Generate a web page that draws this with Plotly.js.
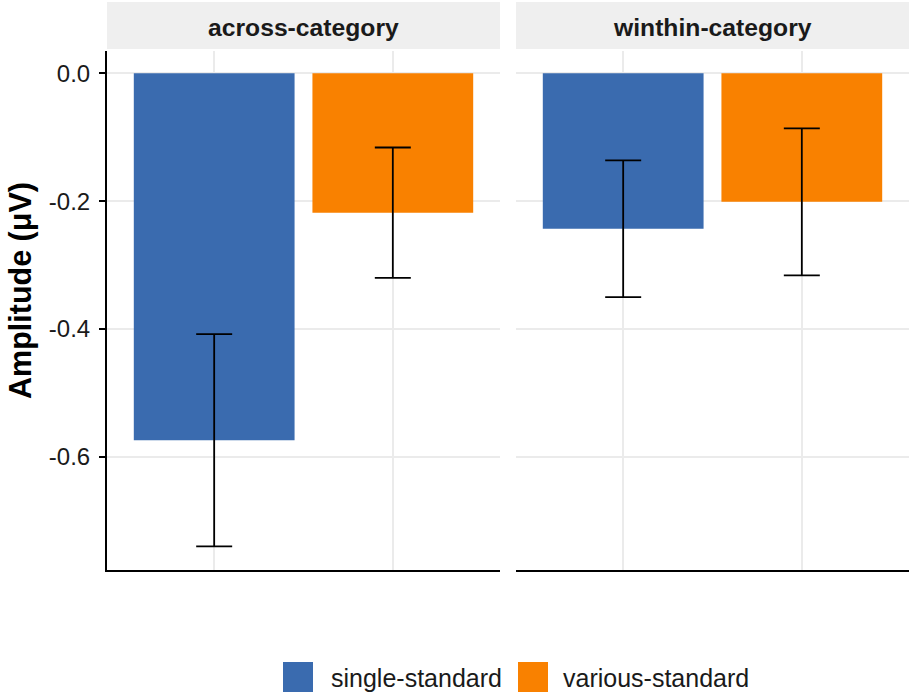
<!DOCTYPE html>
<html>
<head>
<meta charset="utf-8">
<script src="https://cdn.plot.ly/plotly-3.0.1.min.js"></script>
<style>html,body{margin:0;padding:0;background:#fff;}#chart{width:911px;height:692px;}</style>
</head>
<body>
<div id="chart"></div>
<script>
// ---- data ----
const panels = ['across-category', 'winthin-category'];
const conditions = ['single-standard', 'various-standard'];
const singleMean = [-0.574, -0.243];
const singleErr = [0.166, 0.107];
const variousMean = [-0.218, -0.201];
const variousErr = [0.102, 0.115];
const yTicks = [0.0, -0.2, -0.4, -0.6];
const yTickText = ['0.0', '-0.2', '-0.4', '-0.6'];
const yTitle = 'Amplitude (μV)';
const colors = ['#3A6BAF', '#F98100'];

const W = 911, H = 692, ML = 107, MR = 2, MT = 51, MB = 122;
const PW = W - ML - MR, PH = H - MT - MB;
const px = v => (v - ML) / PW;
const py = v => (H - MB - v) / PH;

const FONT = 'Liberation Sans, Arial, Helvetica, sans-serif';
const means = [singleMean, variousMean];
const errs = [singleErr, variousErr];

const traces = [];
conditions.forEach((c, ci) => {
  panels.forEach((p, pi) => {
    traces.push({
      type: 'bar',
      name: c,
      x: [c],
      y: [means[ci][pi]],
      xaxis: pi === 0 ? 'x' : 'x2',
      yaxis: pi === 0 ? 'y' : 'y2',
      width: 0.9,
      marker: {color: colors[ci], line: {width: 0}},
      error_y: {type: 'data', array: [errs[ci][pi]], visible: true, color: '#000000', thickness: 1.8, width: 18},
      showlegend: false,
      hoverinfo: 'skip'
    });
  });
});

const dom1 = [0, px(500)], dom2 = [px(516), 1];
const xcommon = {
  type: 'category', categoryorder: 'array', categoryarray: conditions,
  range: [-0.6, 1.6], showticklabels: false, ticks: '',
  showgrid: true, gridcolor: '#EBEBEB', gridwidth: 2,
  showline: true, linecolor: '#000000', linewidth: 2, zeroline: false, fixedrange: true
};
const ycommon = {
  range: [-0.777, 0.035], tickvals: yTicks, ticktext: yTickText,
  showgrid: true, gridcolor: '#EBEBEB', gridwidth: 2, zeroline: false, fixedrange: true
};

const shapes = [];
const annotations = [];
[dom1, dom2].forEach((d, i) => {
  shapes.push({type: 'rect', xref: 'paper', yref: 'paper', x0: d[0], x1: d[1], y0: py(49), y1: py(2),
    fillcolor: '#EFEFEF', line: {width: 0}, layer: 'below'});
  annotations.push({xref: 'paper', yref: 'paper', x: (d[0] + d[1]) / 2, y: py(27), text: '<b>' + panels[i] + '</b>',
    showarrow: false, xanchor: 'center', yanchor: 'middle', font: {family: FONT, size: 24.7, color: '#1a1a1a'}});
});
// legend
const legX = [283, 518], legTextX = [329, 561];
conditions.forEach((c, ci) => {
  shapes.push({type: 'rect', xref: 'paper', yref: 'paper', x0: px(legX[ci]), x1: px(legX[ci] + 30), y0: py(692), y1: py(662),
    fillcolor: colors[ci], line: {width: 0}});
  annotations.push({xref: 'paper', yref: 'paper', x: px(legTextX[ci]), y: py(678), text: c, showarrow: false,
    xanchor: 'left', yanchor: 'middle', font: {family: FONT, size: 25, color: '#1a1a1a'}});
});
// y-axis title (centred on panel + strip, as in the reference)
annotations.push({xref: 'paper', yref: 'paper', x: px(20), y: py(291), text: '<b>' + yTitle + '</b>', textangle: -90,
  showarrow: false, xanchor: 'center', yanchor: 'middle', font: {family: FONT, size: 30.5, color: '#000000'}});

const layout = {
  width: W, height: H,
  margin: {l: ML, r: MR, t: MT, b: MB, pad: 0},
  paper_bgcolor: '#ffffff', plot_bgcolor: '#ffffff',
  font: {family: FONT, size: 24, color: '#1a1a1a'},
  showlegend: false,
  bargap: 0.1,
  xaxis: Object.assign({}, xcommon, {domain: dom1, anchor: 'y'}),
  xaxis2: Object.assign({}, xcommon, {domain: dom2, anchor: 'y2'}),
  yaxis: Object.assign({}, ycommon, {domain: [0, 1], anchor: 'x', showline: true, linecolor: '#000000', linewidth: 2,
    ticks: 'outside', ticklen: 6, tickwidth: 1.8, tickcolor: '#000000', ticklabelstandoff: 4,
    tickfont: {family: FONT, size: 24, color: '#1a1a1a'}}),
  yaxis2: Object.assign({}, ycommon, {domain: [0, 1], anchor: 'x2', matches: 'y', showticklabels: false, ticks: '', showline: false}),
  shapes: shapes,
  annotations: annotations
};

Plotly.newPlot('chart', traces, layout, {staticPlot: true, displayModeBar: false});
</script>
</body>
</html>
